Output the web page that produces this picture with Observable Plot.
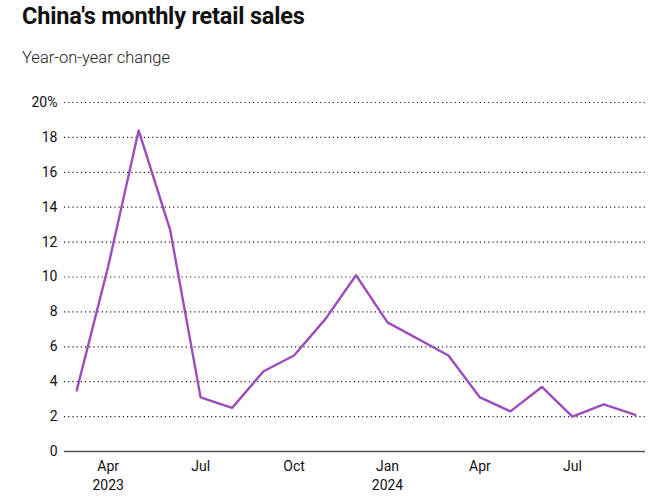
<!DOCTYPE html>
<html>
<head>
<meta charset="utf-8">
<script src="https://cdn.jsdelivr.net/npm/d3@7"></script>
<script src="https://cdn.jsdelivr.net/npm/@observablehq/plot@0.6"></script>
<style>
  body { margin: 0; background: #fff; font-family: Roboto, sans-serif; }
  #title { position: absolute; left: 22px; top: 2px; font-size: 23.5px; font-weight: 700; color: #111; letter-spacing: -0.2px; }
  #subtitle { position: absolute; left: 22px; top: 48px; font-size: 16.5px; font-weight: 300; color: #222; }
  #chart { position: absolute; left: 0; top: 88px; }
</style>
</head>
<body>
<div id="title">China's monthly retail sales</div>
<div id="subtitle">Year-on-year change</div>
<div id="chart"></div>
<script>
const months = ["2023-03","2023-04","2023-05","2023-06","2023-07","2023-08","2023-09","2023-10","2023-11","2023-12","2024-01","2024-03","2024-04","2024-05","2024-06","2024-07","2024-08","2024-09"];
const values = [3.5,10.6,18.4,12.7,3.1,2.5,4.6,5.5,7.6,10.1,7.4,5.5,3.1,2.3,3.7,2.0,2.7,2.1];
const yTicks = [0,2,4,6,8,10,12,14,16,18,20];
const xTicks = ["2023-04","2023-07","2023-10","2024-01","2024-04","2024-07"];

const parse = d3.utcParse("%Y-%m");
const data = months.map((m, i) => ({date: parse(m), value: values[i]}));
const xTickDates = xTicks.map(parse);
const fmtX = d => {
  const m = d3.utcFormat("%b")(d);
  return d.getUTCMonth() === 0 || +d === +xTickDates[0] ? m + "\n" + d.getUTCFullYear() : m;
};

const chart = Plot.plot({
  width: 669,
  height: 415,
  marginTop: 14,
  marginBottom: 52,
  marginLeft: 64,
  marginRight: 24,
  style: {fontFamily: "Roboto, sans-serif", fontSize: "14px", color: "#111"},
  x: {type: "utc", domain: [new Date(Date.UTC(2023,1,17)), new Date(Date.UTC(2024,8,11))]},
  y: {domain: [0, 20]},
  marks: [
    Plot.ruleY(yTicks.filter(d => d > 0), {stroke: "#222", strokeWidth: 1.2, strokeDasharray: "1.2,3"}),
    Plot.ruleY([0], {stroke: "#555", strokeWidth: 1.5}),
    Plot.axisY({ticks: yTicks, tickSize: 0, tickPadding: 7, fontSize: 14, label: null, tickFormat: d => d === 20 ? "20%" : String(d)}),
    Plot.axisX({ticks: xTickDates, tickSize: 0, tickPadding: 6, fontSize: 14, tickFormat: fmtX, lineHeight: 1.35, label: null}),
    Plot.lineY(data, {x: "date", y: "value", stroke: "#9b4dba", strokeWidth: 2.4})
  ]
});
document.getElementById("chart").appendChild(chart);
</script>
</body>
</html>
